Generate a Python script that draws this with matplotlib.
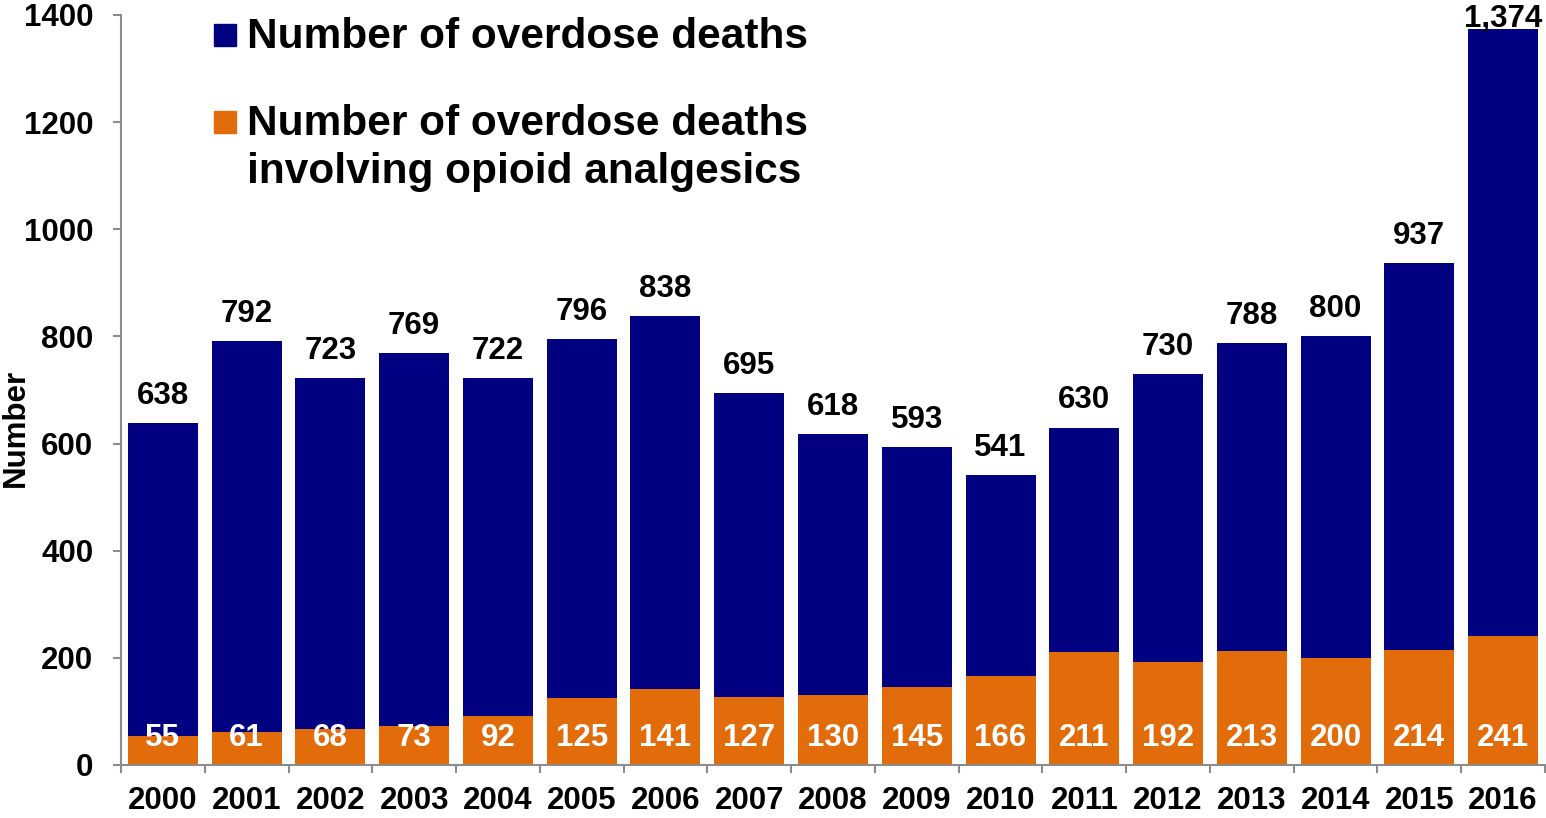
import numpy as np
import matplotlib
matplotlib.use('Agg')
import matplotlib.pyplot as plt
from matplotlib.patches import Rectangle

# ================= data =================
years = ['2000', '2001', '2002', '2003', '2004', '2005', '2006', '2007', '2008',
         '2009', '2010', '2011', '2012', '2013', '2014', '2015', '2016']
total_deaths = [638, 792, 723, 769, 722, 796, 838, 695, 618,
                593, 541, 630, 730, 788, 800, 937, 1374]
opioid_deaths = [55, 61, 68, 73, 92, 125, 141, 127, 130,
                 145, 166, 211, 192, 213, 200, 214, 241]
legend_labels = ['Number of overdose deaths',
                 'Number of overdose deaths\ninvolving opioid analgesics']
y_ticks = [0, 200, 400, 600, 800, 1000, 1200, 1400]

NAVY = '#000080'
ORANGE = '#E36C0A'
AXIS_GRAY = '#8c8c8c'
FS = 22.5
W, H = 1546, 818

plt.rcParams['font.family'] = ['Liberation Sans', 'DejaVu Sans']
plt.rcParams['font.weight'] = 'bold'

fig = plt.figure(figsize=(W / 100, H / 100), dpi=100)
ax = fig.add_axes([121 / W, 1 - 765 / H, 1424 / W, 750 / H])

x = np.arange(len(years))
total = np.array(total_deaths)
opioid = np.array(opioid_deaths)

ax.bar(x, opioid, width=0.835, color=ORANGE, edgecolor='none', zorder=2)
ax.bar(x, total - opioid, bottom=opioid, width=0.835, color=NAVY,
       edgecolor='none', zorder=2)

ax.set_xlim(-0.5, len(years) - 0.5)
ax.set_ylim(0, 1400)

# value labels: baseline ~19px above bar, pushed down if it would leave the figure
px_per_unit = 750 / 1400
for xi, t, o in zip(x, total, opioid):
    top_px = 765 - t * px_per_unit          # bar top, pixels from figure top
    gap_px = min(19, top_px - 27)
    ax.annotate(f'{t:,}', xy=(xi, t), xytext=(0, gap_px * 0.72),
                textcoords='offset points', ha='center', va='baseline',
                fontsize=FS, fontweight='bold', color='black',
                annotation_clip=False)
    ax.annotate(f'{o}', xy=(xi, 0), xytext=(0, 13.5), textcoords='offset points',
                ha='center', va='baseline', fontsize=FS, fontweight='bold',
                color='white', zorder=3)

ax.set_yticks(y_ticks)
ax.set_yticklabels([str(v) for v in y_ticks], fontsize=FS, fontweight='bold')
ax.set_xticks(x)
ax.set_xticklabels(years, fontsize=FS, fontweight='bold')
ax.set_xticks(np.arange(len(years) + 1) - 0.5, minor=True)
ax.tick_params(axis='x', which='major', length=0, pad=15)
ax.tick_params(axis='x', which='minor', length=6, width=1.5, color=AXIS_GRAY,
               direction='out')
ax.tick_params(axis='y', which='major', length=6, width=1.5, color=AXIS_GRAY,
               direction='out', pad=14)

for side in ['top', 'right']:
    ax.spines[side].set_visible(False)
for side in ['left', 'bottom']:
    ax.spines[side].set_color(AXIS_GRAY)
    ax.spines[side].set_linewidth(1.5)

fig.text(16 / W, 1 - 428 / H, 'Number', rotation=90, fontsize=FS,
         fontweight='bold', ha='center', va='center')

# legend drawn by hand, square beside first line of each label
legend_items = [(NAVY, legend_labels[0], 24, 48),
                (ORANGE, legend_labels[1], 111, 135)]
for color, label, sq_top, base in legend_items:
    fig.patches.append(Rectangle((214 / W, 1 - (sq_top + 22) / H), 22 / W, 22 / H,
                                 transform=fig.transFigure, color=color))
    for i, line in enumerate(label.split('\n')):
        fig.text(247 / W, 1 - (base + 48 * i) / H, line, fontsize=30.5,
                 fontweight='bold', ha='left', va='baseline')

fig.savefig('out.png', dpi=100)
